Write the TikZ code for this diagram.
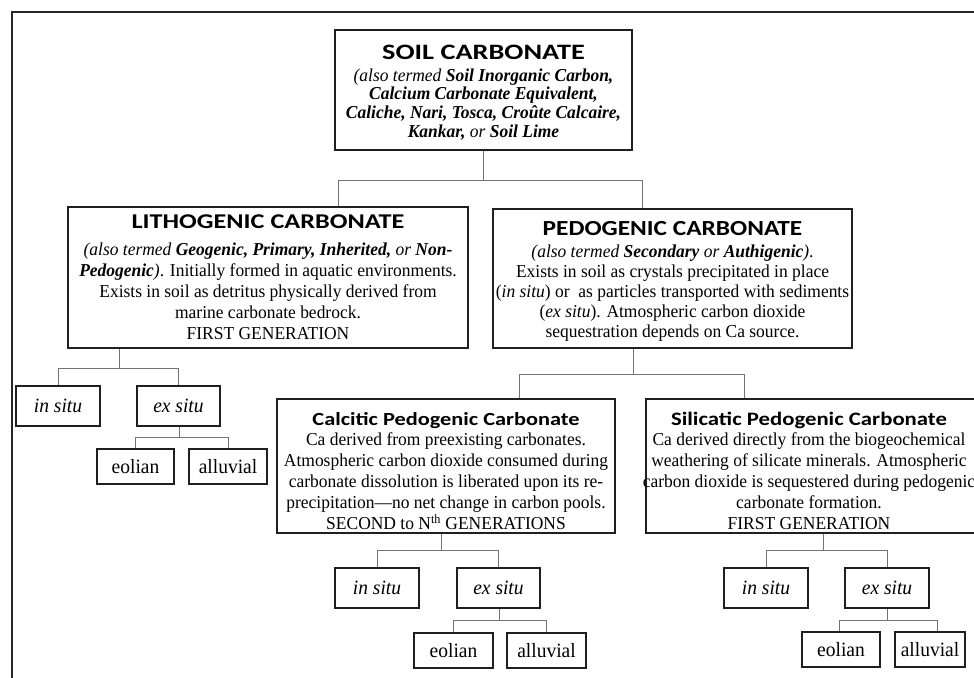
\documentclass[tikz,border=0pt]{standalone}
\usepackage{fontspec}
\usepackage{graphicx}
\setmainfont{Liberation Serif}[FakeStretch=0.96]
\newfontfamily\titlefont{Carlito}
\newcommand{\ttl}[3]{\scalebox{#1}[1]{\titlefont\bfseries\fontsize{#2}{#2}\selectfont #3}}
\newcommand{\bi}[1]{\textbf{\textit{#1}}}
\begin{document}
\begin{tikzpicture}[x=1pt,y=-1pt]
\tikzset{
  bx/.style={draw=black!88, line width=1.2pt, inner sep=0pt, fill=white},
  conn/.style={draw=black!55, line width=0.9pt},
  tx/.style={inner sep=0pt, align=center, anchor=north, text=black},
  smallbox/.style={bx, minimum height=40pt, font=\fontsize{20.3}{22}\selectfont},
  leafbox/.style={bx, minimum height=35pt, font=\fontsize{20.3}{22}\selectfont},
  frame/.style={draw=black!85, line width=1.5pt}
}
\useasboundingbox (0,0) rectangle (974,677);
\fill[white] (0,0) rectangle (974,677);
% outer frame (cropped)
\coordinate (fa) at (12,700);
\coordinate (fb) at (12,12);
\coordinate (fc) at (990,12);
\draw[frame] (fa) -- (fb) -- (fc);

% main boxes
\node[bx, minimum width=297pt, minimum height=120pt] (soil) at (483.5,90) {};
\node[tx, font=\fontsize{18.2}{18.7}\selectfont] (soilT) at ([yshift=-15pt]soil.north)
 {\ttl{1.285}{22}{SOIL CARBONATE}\\[3.3pt]
  \textit{(also termed} \bi{Soil Inorganic Carbon,}\\
  \bi{Calcium Carbonate Equivalent,}\\
  \bi{Caliche, Nari, Tosca, Croûte Calcaire,}\\
  \bi{Kankar,} \textit{or} \bi{Soil Lime}};

\node[bx, minimum width=400pt, minimum height=141pt] (lith) at (268,277.5) {};
\node[tx, font=\fontsize{18.2}{21}\selectfont] (lithT) at ([yshift=-8pt]lith.north)
 {\ttl{1.249}{21}{LITHOGENIC CARBONATE}\\[6pt]
  \textit{(also termed} \bi{Geogenic, Primary, Inherited,} \textit{or} \bi{Non-}\\
  \bi{Pedogenic}\textit{)}. Initially formed in aquatic environments.\\
  Exists in soil as detritus physically derived from\\
  marine carbonate bedrock.\\
  FIRST GENERATION};

\node[bx, minimum width=359pt, minimum height=139pt] (ped) at (672.5,278.5) {};
\node[tx, font=\fontsize{18.2}{20}\selectfont] (pedT) at ([yshift=-13pt]ped.north)
 {\ttl{1.18}{21.5}{PEDOGENIC CARBONATE}\\[2pt]
  \textit{(also termed} \bi{Secondary} \textit{or} \bi{Authigenic}\textit{)}.\\
  Exists in soil as crystals precipitated in place\\
  (\textit{in situ}) or\ \ as particles transported with sediments\\
  (\textit{ex situ}). Atmospheric carbon dioxide\\
  sequestration depends on Ca source.};

\node[bx, minimum width=338pt, minimum height=134pt] (calc) at (446,466) {};
\node[tx, font=\fontsize{18.2}{21}\selectfont] (calcT) at ([yshift=-14pt]calc.north)
 {\ttl{1.207}{18.5}{Calcitic Pedogenic Carbonate}\\[-1pt]
  Ca derived from preexisting carbonates.\\
  Atmospheric carbon dioxide consumed during\\
  carbonate dissolution is liberated upon its re-\\
  precipitation—no net change in carbon pools.\\
  SECOND to N\textsuperscript{th} GENERATIONS};

\node[bx, minimum width=334pt, minimum height=134pt] (sil) at (813,466) {};
\node[tx, font=\fontsize{18.2}{21}\selectfont] (silT) at ([xshift=-4pt,yshift=-14pt]sil.north)
 {\ttl{1.197}{19}{Silicatic Pedogenic Carbonate}\\[-1pt]
  Ca derived directly from the biogeochemical\\
  weathering of silicate minerals. Atmospheric\\
  carbon dioxide is sequestered during pedogenic\\
  carbonate formation.\\
  FIRST GENERATION};

% small boxes: lithogenic
\node[smallbox, minimum width=84pt] (lin) at (58,406) {\textit{in situ}};
\node[smallbox, minimum width=83pt] (lex) at (178.5,406) {\textit{ex situ}};
\node[leafbox, minimum width=77pt] (leo) at (135.5,466.5) {eolian};
\node[leafbox, minimum width=78pt] (lal) at (228,466.5) {alluvial};
% calcitic
\node[smallbox, minimum width=84pt] (cin) at (377,588) {\textit{in situ}};
\node[smallbox, minimum width=83pt] (cex) at (498.5,588) {\textit{ex situ}};
\node[leafbox, minimum width=79pt] (ceo) at (453.5,650.5) {eolian};
\node[leafbox, minimum width=79pt] (cal) at (546.5,650.5) {alluvial};
% silicatic
\node[smallbox, minimum width=84pt] (sin) at (766,588) {\textit{in situ}};
\node[smallbox, minimum width=84pt] (sex) at (887,588) {\textit{ex situ}};
\node[leafbox, minimum width=78pt] (seo) at (841,649.5) {eolian};
\node[leafbox, minimum width=70pt] (sal) at (930,649.5) {alluvial};

% connectors
\coordinate (j0a) at (338,180);
\coordinate (j0b) at (642,180);
\draw[conn] (soil.south) -- (soil.south |- j0a);
\draw[conn] (j0a) -- (j0b);
\draw[conn] (j0a) -- (j0a |- lith.north);
\draw[conn] (j0b) -- (j0b |- ped.north);

\coordinate (j1) at (119,368);
\draw[conn] (j1 |- lith.south) -- (j1);
\draw[conn] (j1 -| lin) -- (j1 -| lex);
\draw[conn] (j1 -| lin) -- (lin.north);
\draw[conn] (j1 -| lex) -- (lex.north);

\coordinate (j2) at (179,437);
\draw[conn] (j2 |- lex.south) -- (j2);
\draw[conn] (j2 -| leo) -- (j2 -| lal);
\draw[conn] (j2 -| leo) -- (leo.north);
\draw[conn] (j2 -| lal) -- (lal.north);

\coordinate (j3) at (633,374);
\coordinate (j3a) at (519,374);
\coordinate (j3b) at (744,374);
\draw[conn] (j3 |- ped.south) -- (j3);
\draw[conn] (j3a) -- (j3b);
\draw[conn] (j3a) -- (j3a |- calc.north);
\draw[conn] (j3b) -- (j3b |- sil.north);

\coordinate (j4) at (441,550);
\draw[conn] (j4 |- calc.south) -- (j4);
\draw[conn] (j4 -| cin) -- (j4 -| cex);
\draw[conn] (j4 -| cin) -- (cin.north);
\draw[conn] (j4 -| cex) -- (cex.north);

\coordinate (j5) at (499,620);
\draw[conn] (j5 |- cex.south) -- (j5);
\draw[conn] (j5 -| ceo) -- (j5 -| cal);
\draw[conn] (j5 -| ceo) -- (ceo.north);
\draw[conn] (j5 -| cal) -- (cal.north);

\coordinate (j6) at (823,550);
\draw[conn] (j6 |- sil.south) -- (j6);
\draw[conn] (j6 -| sin) -- (j6 -| sex);
\draw[conn] (j6 -| sin) -- (sin.north);
\draw[conn] (j6 -| sex) -- (sex.north);

\coordinate (j7) at (887,620);
\coordinate (j7a) at (839,620);
\coordinate (j7b) at (937,620);
\draw[conn] (j7 |- sex.south) -- (j7);
\draw[conn] (j7a) -- (j7b);
\draw[conn] (j7a) -- (j7a |- seo.north);
\draw[conn] (j7b) -- (j7b |- sal.north);
\end{tikzpicture}
\end{document}
